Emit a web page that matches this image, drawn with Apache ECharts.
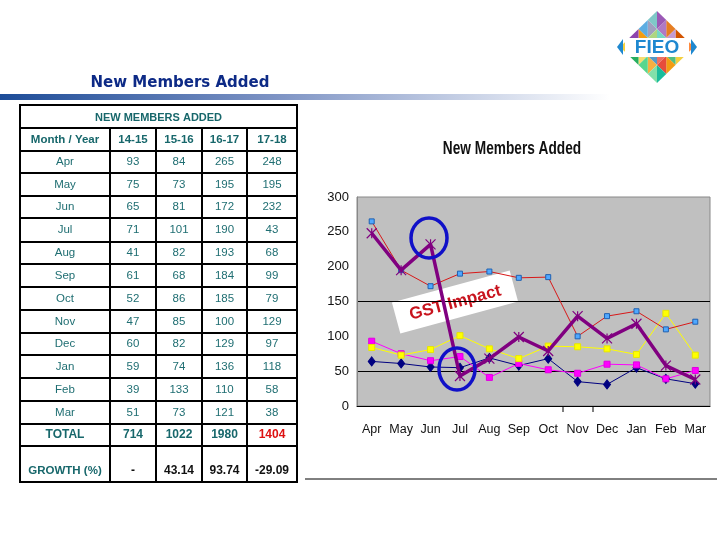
<!DOCTYPE html>
<html>
<head>
<meta charset="utf-8">
<style>html,body{margin:0;padding:0;background:#fff;}#main{width:720px;height:540px;}</style>
<script src="https://cdn.jsdelivr.net/npm/echarts@6/dist/echarts.min.js"></script>
</head>
<body>
<div id="main"></div>
<script>
// ---------- DATA ----------
const months = ['Apr','May','Jun','Jul','Aug','Sep','Oct','Nov','Dec','Jan','Feb','Mar'];
const yearCols = ['14-15','15-16','16-17','17-18'];
const v1415 = [93,75,65,71,41,61,52,47,60,59,39,51];
const v1516 = [84,73,81,101,82,68,86,85,82,74,133,73];
const v1617 = [265,195,172,190,193,184,185,100,129,136,110,121];
const v1718 = [248,195,232,43,68,99,79,129,97,118,58,38];
const vOther = [64,61,56,55,69,58,68,35,31,55,39,32];
const totals = ['714','1022','1980','1404'];
const growth = ['-','43.14','93.74','-29.09'];
const tableTitle = 'NEW MEMBERS ADDED';
const headerFirst = 'Month / Year';
const pageTitle = 'New Members Added';
const chartTitle = 'New Members Added';
const noteText = 'GST Impact';

// ---------- LAYOUT ----------
const colX = [20,110,156,202,247,297];
const rowY = [105,128,151,173,196,218,242,264,287,310,333,355,378,401,424,446,482];
const teal = '#1f6e72';
const tealBold = '#17676b';
const sans = '"Liberation Sans", Arial, sans-serif';
const cols = [v1415, v1516, v1617, v1718];

const g = [];
const bw = 2;
g.push({type:'rect', shape:{x:colX[0], y:rowY[0], width:colX[5]-colX[0], height:rowY[rowY.length-1]-rowY[0]},
  style:{fill:'#fff', stroke:'#000', lineWidth:bw}});
for (let r = 1; r < rowY.length-1; r++) {
  g.push({type:'line', shape:{x1:colX[0], y1:rowY[r], x2:colX[5], y2:rowY[r]}, style:{stroke:'#000', lineWidth:bw}});
}
for (let c = 1; c < colX.length-1; c++) {
  g.push({type:'line', shape:{x1:colX[c], y1:rowY[1], x2:colX[c], y2:rowY[rowY.length-1]}, style:{stroke:'#000', lineWidth:bw}});
}
function cell(text, c, yc, opts) {
  g.push({type:'text', x:(colX[c]+colX[c+1])/2, y:yc,
    style:Object.assign({text:text, fill:teal, font:'11.5px ' + sans, textAlign:'center', textVerticalAlign:'middle'}, opts||{})});
}
g.push({type:'text', x:(colX[0]+colX[5])/2, y:(rowY[0]+rowY[1])/2+1,
  style:{text:tableTitle, fill:tealBold, font:'bold 11px ' + sans, textAlign:'center', textVerticalAlign:'middle'}});
const hy = (rowY[1]+rowY[2])/2;
cell(headerFirst, 0, hy, {fill:tealBold, font:'bold 11.5px ' + sans});
yearCols.forEach((y,i)=>cell(y, i+1, hy, {fill:tealBold, font:'bold 11.5px ' + sans}));
months.forEach((m, r) => {
  const yc = (rowY[r+2]+rowY[r+3])/2;
  cell(m, 0, yc);
  cols.forEach((arr, c) => cell(String(arr[r]), c+1, yc));
});
const ty = (rowY[14]+rowY[15])/2;
cell('TOTAL', 0, ty, {fill:tealBold, font:'bold 12px ' + sans});
totals.forEach((t,i)=>cell(t, i+1, ty, {fill: i===3 ? '#dd1111' : tealBold, font:'bold 12px ' + sans}));
const gy = rowY[16]-11;
cell('GROWTH (%)', 0, gy, {fill:tealBold, font:'bold 11.5px ' + sans});
growth.forEach((t,i)=>cell(t, i+1, gy, {fill:'#111', font:'bold 12px ' + sans}));

// page title + gradient bar
g.push({type:'text', x:180, y:83, style:{text:pageTitle, fill:'#0d2a86', font:'bold 15px "DejaVu Sans", sans-serif', textAlign:'center', textVerticalAlign:'middle'}});
g.push({type:'rect', shape:{x:0, y:94, width:610, height:6},
  style:{fill:new echarts.graphic.LinearGradient(0,0,1,0,[{offset:0,color:'#1d4c98'},{offset:0.45,color:'#7d93c4'},{offset:1,color:'#ffffff'}])}});

// chart title (condensed look)
g.push({type:'text', x:512, y:149, scaleX:0.72, style:{text:chartTitle, fill:'#111', font:'bold 19px ' + sans, textAlign:'center', textVerticalAlign:'middle'}});

// bottom line and odd ticks
g.push({type:'line', shape:{x1:305, y1:479, x2:717, y2:479}, style:{stroke:'#000', lineWidth:1}});
g.push({type:'line', shape:{x1:563, y1:406, x2:563, y2:412}, style:{stroke:'#000', lineWidth:1}});
g.push({type:'line', shape:{x1:593, y1:406, x2:593, y2:412}, style:{stroke:'#000', lineWidth:1}});

// GST Impact box (under series lines)
g.push({type:'group', x:455, y:302, rotation:0.265, z:0, children:[
  {type:'rect', shape:{x:-61, y:-16, width:122, height:32}, style:{fill:'#ffffff'}},
  {type:'text', x:0, y:1, style:{text:noteText, fill:'#c8141e', font:'bold 17px ' + sans, textAlign:'center', textVerticalAlign:'middle'}}
]});

// annotation circles (on top)
g.push({type:'ellipse', z:100, shape:{cx:429, cy:238, rx:18, ry:20}, style:{fill:'none', stroke:'#1010c8', lineWidth:3.5}});
g.push({type:'ellipse', z:100, shape:{cx:457, cy:369, rx:18, ry:21}, style:{fill:'none', stroke:'#1010c8', lineWidth:3.5}});

// FIEO logo
(function(){
  const T=[657,11], R=[694,47], L=[620,47];
  const P=(a,b)=>[T[0]+a*(R[0]-T[0])+b*(L[0]-T[0]), T[1]+a*(R[1]-T[1])+b*(L[1]-T[1])];
  const pal=['#9b59b6','#7fc8c8','#a0a0c0','#5dade2','#f39c12','#8e44ad','#48c9b0','#f4d03f',
             '#e67e22','#af7ac5','#76d7c4','#aed581','#e74c3c','#3498db','#f7dc6f','#27ae60',
             '#d35400','#c39bd3','#f1c40f','#2ecc71','#ec7063','#5499c7','#f5b041','#58d68d',
             '#ff8a3d','#48c9b0','#f4d03f','#52be80','#f39c12','#e74c3c','#1abc9c','#82e0aa'];
  let k=0; const n=4;
  for(let i=0;i<n;i++) for(let j=0;j<n;j++){
    const a0=i/n,a1=(i+1)/n,b0=j/n,b1=(j+1)/n;
    g.push({type:'polygon', shape:{points:[P(a0,b0),P(a1,b0),P(a1,b1)]}, style:{fill:pal[k++%pal.length]}});
    g.push({type:'polygon', shape:{points:[P(a0,b0),P(a0,b1),P(a1,b1)]}, style:{fill:pal[k++%pal.length]}});
  }
  g.push({type:'rect', shape:{x:625, y:38, width:64, height:19}, style:{fill:'#fff'}});
  g.push({type:'polygon', shape:{points:[[617,47],[623,39],[623,55]]}, style:{fill:'#1e88d0'}});
  g.push({type:'polygon', shape:{points:[[697,47],[691,39],[691,55]]}, style:{fill:'#1e88d0'}});
  g.push({type:'text', x:657, y:48, style:{text:'FIEO', fill:'#1e88d0', font:'bold 19px ' + sans, textAlign:'center', textVerticalAlign:'middle'}});
})();

// ---------- CHART ----------
const chart = echarts.init(document.getElementById('main'), null, {renderer:'canvas', width:720, height:540});
const T = 'rgba(0,0,0,0)';
function sq(name, data, line, fill, border, sym, size, width) {
  return {name, type:'line', data, symbol:sym, symbolSize:size, showSymbol:true,
    lineStyle:{color:line, width:width}, itemStyle:{color:fill, borderColor:border, borderWidth:1},
    emphasis:{disabled:true}, animation:false, z:2};
}
chart.setOption({
  backgroundColor:'#fff',
  animation:false,
  grid:{left:357, top:197, width:353, height:209, show:true, backgroundColor:'#c0c0c0', borderColor:'#888', borderWidth:1},
  xAxis:{type:'category', data:months, boundaryGap:true,
    axisLine:{show:true, lineStyle:{color:'#000', width:1}}, axisTick:{show:false},
    axisLabel:{color:'#111', fontFamily:'Liberation Sans', fontSize:12.5, margin:17, interval:0}},
  yAxis:{type:'value', min:0, max:300, interval:50,
    axisLine:{show:true, lineStyle:{color:'#888'}}, axisTick:{show:false},
    axisLabel:{color:'#111', fontFamily:'Liberation Sans', fontSize:13, margin:8},
    splitLine:{show:true, lineStyle:{color:[T,'#000',T,'#000',T,T,T], width:1}}},
  graphic:{elements:g},
  series:[
    sq('13-14', vOther, '#000080', '#000080', '#000080', 'diamond', [7,9], 1),
    sq('14-15', v1415, '#ff00ff', '#ff00ff', '#e000e0', 'rect', 6, 1),
    sq('15-16', v1516, '#ffff00', '#ffff00', '#e6e600', 'rect', 6, 1),
    sq('16-17', v1617, '#d81818', '#4fa8ff', '#2060b0', 'rect', 5, 1),
    {name:'17-18', type:'line', data:v1718, symbol:'path://M0,0L10,10M10,0L0,10M5,0L5,10', symbolSize:10,
      lineStyle:{color:'#800080', width:3.5}, itemStyle:{color:T, borderColor:'#800080', borderWidth:1.2},
      emphasis:{disabled:true}, z:3}
  ]
});
</script>
</body>
</html>
